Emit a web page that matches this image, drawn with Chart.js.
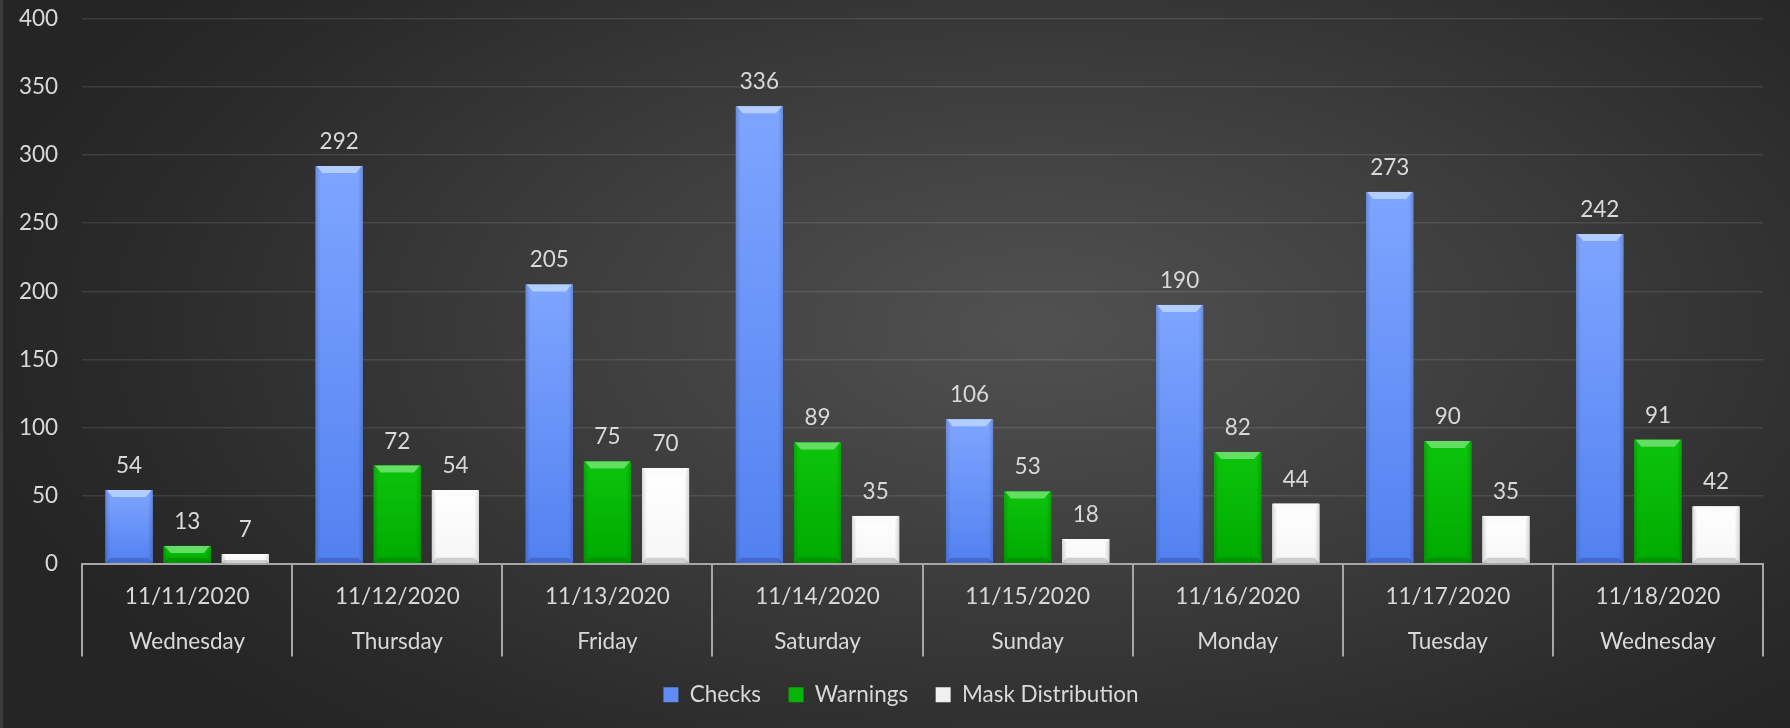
<!DOCTYPE html>
<html>
<head>
<meta charset="utf-8">
<script src="https://cdn.jsdelivr.net/npm/chart.js@4.4.1/dist/chart.umd.min.js"></script>
<style>
  html, body { margin: 0; padding: 0; }
  body {
    width: 1790px; height: 728px; overflow: hidden;
    background: radial-gradient(ellipse 60% 75% at 58% 45%, #515151 0%, #3d3d3d 45%, #2a2a2a 85%, #252525 100%);
  }
  #wrap { position: absolute; left: 0; top: 0; width: 1790px; height: 728px; border-left: 3px solid #3a3a3a; box-sizing: border-box; }
  canvas { display: block; }
</style>
</head>
<body>
<div id="wrap"><canvas id="c" width="1787" height="728"></canvas></div>
<script>
const dates = ["11/11/2020","11/12/2020","11/13/2020","11/14/2020","11/15/2020","11/16/2020","11/17/2020","11/18/2020"];
const weekdays = ["Wednesday","Thursday","Friday","Saturday","Sunday","Monday","Tuesday","Wednesday"];
const checks = [54, 292, 205, 336, 106, 190, 273, 242];
const warnings = [13, 72, 75, 89, 53, 82, 90, 91];
const maskDistribution = [7, 54, 70, 35, 18, 44, 35, 42];
const yTicks = [0, 50, 100, 150, 200, 250, 300, 350, 400];

const FONT = "Lato, 'Open Sans', sans-serif";
const FS = 22.5;
const TEXT = "#d9d9d9";
const AXIS = "#a6a6a6";

const styles = [
  { legend: "#608cf6", topC: "#7ea5ff", botC: "#5281f0", bevel: "#b2ceff", bottom: "rgba(0,0,60,0.18)", edge: 0.16 },
  { legend: "#05b405", topC: "#0cc40c", botC: "#00aa00", bevel: "#62de62", bottom: "rgba(0,40,0,0.18)", edge: 0.16 },
  { legend: "#f0f0f0", topC: "#ffffff", botC: "#f6f6f6", bevel: "#fbfbfb", bottom: "rgba(0,0,0,0.16)", edge: 0.15 }
];

const bevelPlugin = {
  id: "bevel",
  afterDatasetDraw(chart, args) {
    const ctx = chart.ctx;
    const st = styles[args.index];
    args.meta.data.forEach(el => {
      const w = el.width, l = el.x - w / 2, r = el.x + w / 2;
      const t = Math.min(el.y, el.base), b = Math.max(el.y, el.base);
      const h = b - t;
      if (h <= 0) return;
      ctx.save();
      const gv = ctx.createLinearGradient(0, t, 0, b);
      gv.addColorStop(0, st.topC);
      gv.addColorStop(1, st.botC);
      ctx.fillStyle = gv;
      ctx.fillRect(l, t, w, h);
      const gh = ctx.createLinearGradient(l, 0, r, 0);
      gh.addColorStop(0, "rgba(0,0,0," + st.edge + ")");
      gh.addColorStop(0.1, "rgba(0,0,0,0)");
      gh.addColorStop(0.9, "rgba(0,0,0,0)");
      gh.addColorStop(1, "rgba(0,0,0," + st.edge + ")");
      ctx.fillStyle = gh;
      ctx.fillRect(l, t, w, h);
      const bv = Math.min(7, h / 2);
      ctx.fillStyle = st.bevel;
      ctx.beginPath();
      ctx.moveTo(l + 1, t); ctx.lineTo(r - 1, t); ctx.lineTo(r - bv, t + bv); ctx.lineTo(l + bv, t + bv); ctx.closePath();
      ctx.fill();
      const bb = Math.min(5, h / 3);
      ctx.fillStyle = st.bottom;
      ctx.beginPath();
      ctx.moveTo(l, b); ctx.lineTo(r, b); ctx.lineTo(r - bb, b - bb); ctx.lineTo(l + bb, b - bb); ctx.closePath();
      ctx.fill();
      ctx.restore();
    });
  }
};

const labelPlugin = {
  id: "valueLabels",
  afterDatasetsDraw(chart) {
    const ctx = chart.ctx;
    ctx.save();
    ctx.font = FS + "px " + FONT;
    ctx.fillStyle = TEXT;
    ctx.textAlign = "center";
    ctx.textBaseline = "alphabetic";
    chart.data.datasets.forEach((ds, i) => {
      chart.getDatasetMeta(i).data.forEach((el, j) => {
        ctx.fillText(String(ds.data[j]), el.x, el.y - 17);
      });
    });
    ctx.restore();
  }
};

// vertical separators between categories on the x axis, taken from the scale
const separatorPlugin = {
  id: "separators",
  afterDraw(chart) {
    const s = chart.scales.x;
    const ctx = chart.ctx;
    ctx.save();
    ctx.strokeStyle = AXIS;
    ctx.lineWidth = 2;
    for (let i = 0; i <= dates.length; i++) {
      const x = Math.round(s.getPixelForValue(i - 0.5));
      ctx.beginPath();
      ctx.moveTo(x, s.top);
      ctx.lineTo(x, s.top + 93);
      ctx.stroke();
    }
    ctx.restore();
  }
};

// move the legend closer to the axis labels and centre it on the page
const legendShift = {
  id: "legendShift",
  afterLayout(chart) {
    const lg = chart.legend;
    if (lg) { lg.top -= 18.5; lg.bottom -= 18.5; lg.left += 22; lg.right += 22; }
  }
};

new Chart(document.getElementById("c"), {
  type: "bar",
  data: {
    labels: dates.map((d, i) => [d, weekdays[i]]),
    datasets: [
      { label: "Checks", data: checks, backgroundColor: styles[0].legend, borderWidth: 0 },
      { label: "Warnings", data: warnings, backgroundColor: styles[1].legend, borderWidth: 0 },
      { label: "Mask Distribution", data: maskDistribution, backgroundColor: styles[2].legend, borderWidth: 0 }
    ]
  },
  options: {
    responsive: false,
    animation: false,
    layout: { padding: { left: -8, right: 27, top: 0, bottom: -6.5 } },
    datasets: { bar: { categoryPercentage: 0.83, barPercentage: 0.81 } },
    plugins: {
      legend: {
        position: "bottom",
        labels: {
          color: TEXT, font: { family: FONT, size: FS },
          boxWidth: 15, boxHeight: 15, padding: 27.5
        }
      },
      tooltip: { enabled: false }
    },
    scales: {
      x: {
        grid: { display: false, drawTicks: false },
        border: { display: true, color: AXIS, width: 2 },
        ticks: { color: TEXT, font: { family: FONT, size: FS, lineHeight: 2.02 }, padding: 10, maxRotation: 0, autoSkip: false }
      },
      y: {
        min: 0, max: 400,
        afterBuildTicks(scale) { scale.ticks = yTicks.map(v => ({ value: v })); },
        afterFit(scale) { scale.paddingTop = 19; scale.paddingBottom = 0; },
        grid: { color: "rgba(255,255,255,0.10)", lineWidth: 1.5, drawTicks: false },
        border: { display: false },
        ticks: { color: TEXT, font: { family: FONT, size: FS }, padding: 24 }
      }
    }
  },
  plugins: [bevelPlugin, labelPlugin, separatorPlugin, legendShift]
});
</script>
</body>
</html>
